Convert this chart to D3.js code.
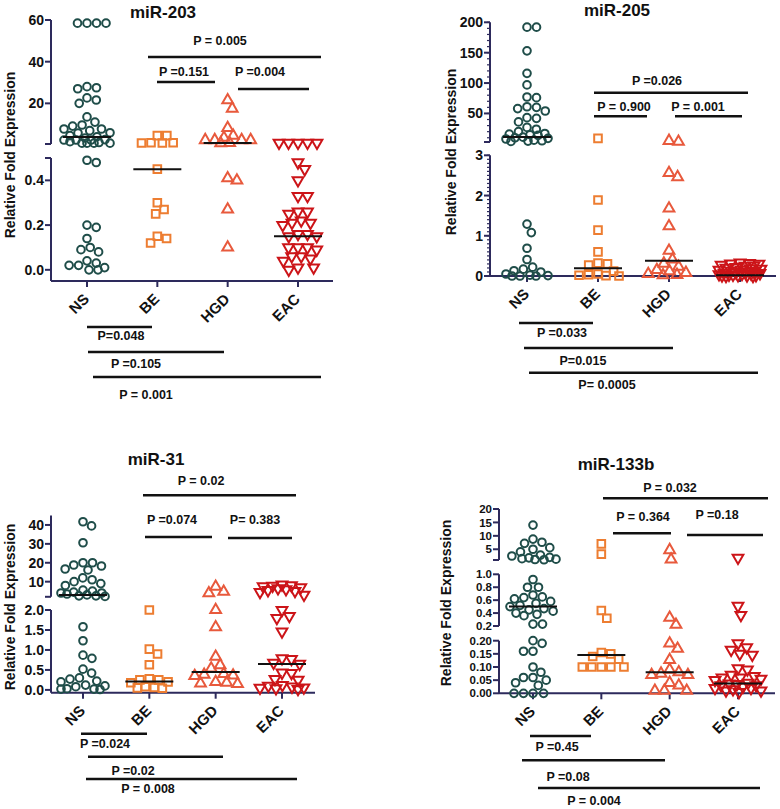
<!DOCTYPE html>
<html><head><meta charset="utf-8">
<script src="https://cdn.jsdelivr.net/npm/d3@7"></script>
<style>body{margin:0;background:#fff}svg{display:block}</style>
</head><body>
<svg id="c" width="780" height="809"></svg>
<script>
const groups = ["NS","BE","HGD","EAC"];

// miR-203
const mir203_NS  = [58.5,58.5,58.5,58.5,28,27.5,27,22.6,21.6,20,13.5,11,9.6,9.1,7.7,7.7,6.9,5.9,5.8,4.5,4,3.4,2.6,2.4,2.4,2.4,1.6,1.2,0.9,0.9,0.9,0.9,0.49,0.48,0.20,0.19,0.14,0.10,0.09,0.08,0.04,0.03,0.02,0.02,0.01,0.0,0.0];
const mir203_BE  = [4.5,4.5,1.1,1.1,1.0,1.0,0.45,0.30,0.27,0.25,0.15,0.14,0.12];
const mir203_HGD = [21.5,17.5,8.2,4.5,3.5,2.4,2.4,2.4,2.4,1.0,0.9,0.41,0.40,0.27,0.10];
const mir203_EAC = [1.1,1.1,1.1,1.1,1.1,0.48,0.45,0.40,0.33,0.33,0.26,0.26,0.25,0.22,0.21,0.20,0.21,0.16,0.16,0.15,0.15,0.10,0.10,0.10,0.09,0.06,0.05,0.06,0.04,0.01,0.01,0.0];
const mir203_median = [3.9,0.45,1.0,0.15];

// miR-205
const mir205_NS  = [192,192,153,116,97,77,76,61,60,58,54,43,42,36,27,24,20,17,16,15,14,11,10,9,8,6,5,4.5,4,1.29,1.08,0.69,0.41,0.22,0.17,0.13,0.1,0.05,0.02,0.01,0.0,0.0,0.0];
const mir205_BE  = [9,1.89,1.14,0.60,0.32,0.30,0.27,0.12,0.05,0.03,0.02,0.01,0.0];
const mir205_HGD = [5,3.6,2.56,2.46,1.68,1.24,0.63,0.41,0.31,0.23,0.15,0.12,0.08,0.05,0.03,0.02];
const mir205_EAC = [0.33,0.32,0.31,0.30,0.28,0.26,0.25,0.22,0.20,0.19,0.18,0.16,0.15,0.13,0.12,0.10,0.09,0.08,0.07,0.06,0.05,0.04,0.03,0.03,0.02,0.02,0.01,0.01,0.0,0.0];
const mir205_median = [11.4,0.19,0.38,0.02];

// miR-31
const mir31_NS  = [41.7,39.5,30.6,20,20,18.8,18.3,16.7,16.2,12,11,10,9,8,5.5,5,4.5,4,4,3.5,3,2.5,2.5,2.2,1.58,1.23,0.87,0.79,0.52,0.42,0.30,0.27,0.22,0.20,0.12,0.10,0.08,0.03,0.02,0.02,0.01];
const mir31_BE  = [2.0,1.02,0.9,0.63,0.28,0.25,0.25,0.2,0.18,0.08,0.06,0.05,0.04];
const mir31_HGD = [7.4,4.7,3.9,2.0,1.57,0.83,0.62,0.54,0.40,0.38,0.36,0.35,0.20,0.18,0.16,0.15];
const mir31_EAC = [8.5,8,7.8,7.5,7,6.5,6,5.5,5,4.5,3,2.0,1.85,1.8,1.46,0.79,0.77,0.68,0.65,0.43,0.42,0.27,0.25,0.12,0.1,0.08,0.06,0.05,0.04,0.02];
const mir31_median = [3.0,0.21,0.45,0.65];

// miR-133b
const mir133b_NS  = [14,8.8,7.6,7.2,5.6,5,4,2.8,2.5,2,1.8,1.5,1.3,1.2,1.1,0.92,0.8,0.8,0.68,0.65,0.64,0.62,0.58,0.55,0.52,0.5,0.47,0.45,0.43,0.4,0.38,0.36,0.23,0.23,0.20,0.19,0.16,0.16,0.10,0.08,0.06,0.06,0.05,0.04,0.03,0.0,0.0,0.0,0.0];
const mir133b_BE  = [7,3.2,0.44,0.32,0.155,0.15,0.14,0.13,0.10,0.10,0.10,0.10,0.10];
const mir133b_HGD = [4.7,1.2,0.33,0.22,0.19,0.17,0.127,0.09,0.08,0.075,0.07,0.07,0.04,0.03,0.01,0.01,0.01];
const mir133b_EAC = [1.8,0.51,0.37,0.19,0.175,0.165,0.15,0.146,0.095,0.09,0.07,0.065,0.06,0.06,0.055,0.05,0.04,0.037,0.035,0.03,0.03,0.025,0.02,0.02,0.015,0.01,0.01,0.005];
const mir133b_median = [0.50,0.146,0.08,0.037];

const colors = ["#1f4d49","#ed7d31","#e8593c","#cc1418"];
const axisColor = "#2d2a5c";

const panels = [
  { title:"miR-203", data:[mir203_NS,mir203_BE,mir203_HGD,mir203_EAC], med:mir203_median,
    ax:51, xy:281, xEnd:333, cat:[87,298], titlePos:[163,18], ylab:[10,155], swarmMax:23, tickFont:14,
    segs:[ {dom:[-0.05,0.5], rng:[281,158], ticks:[0,0.2,0.4], fmt:".1f", caps:[158]},
           {dom:[0.5,60], rng:[144,20], ticks:[20,40,60], fmt:"d", caps:[144]} ],
    pv:[ ["P = 0.005",220,45,148,321,57], ["P =0.151",184,76,157,215,82], ["P =0.004",260,76,238,309,89],
         ["P=0.048",121,340,87,152,327], ["P =0.105",136,368,88,224,352], ["P = 0.001",146,399,93,321,377] ] },
  { title:"miR-205", data:[mir205_NS,mir205_BE,mir205_HGD,mir205_EAC], med:mir205_median,
    ax:490, xy:276, xEnd:776, cat:[527,740], titlePos:[617,16], ylab:[451,152], swarmMax:21, tickFont:14,
    segs:[ {dom:[0,3], rng:[276,155.3], ticks:[0,1,2,3], fmt:"d", caps:[], minor:0.1},
           {dom:[3,200], rng:[142,22.3], ticks:[50,100,150,200], fmt:"d", caps:[142], minor:10} ],
    pv:[ ["P =0.026",657,85,594,748,92.7], ["P = 0.900",624,110.7,594,647,116.3], ["P = 0.001",698,110.7,675,742,116.3],
         ["P =0.033",562,337,519,593,323], ["P=0.015",583,365,524,673,348], ["P= 0.0005",607,389,529,758,372.7] ] },
  { title:"miR-31", data:[mir31_NS,mir31_BE,mir31_HGD,mir31_EAC], med:mir31_median,
    ax:51, xy:692.7, xEnd:315, cat:[83,282], titlePos:[156,465], ylab:[10,607], swarmMax:22, tickFont:14,
    segs:[ {dom:[-0.07,2.0], rng:[692.7,610], ticks:[0,0.5,1,1.5,2], fmt:".1f", caps:[]},
           {dom:[2,45], rng:[596.8,515.5], ticks:[10,20,30,40], fmt:"d", caps:[596.8]} ],
    pv:[ ["P = 0.02",201,485,143,296,495.3], ["P =0.074",172,524.3,145,212,537], ["P= 0.383",255,524,228,292,538],
         ["P =0.024",105,748,81,147,733.7], ["P =0.02",133,775,88,223,756.7], ["P = 0.008",148,793,86,297,779] ] },
  { title:"miR-133b", data:[mir133b_NS,mir133b_BE,mir133b_HGD,mir133b_EAC], med:mir133b_median,
    ax:499, xy:693.3, xEnd:775, cat:[533,738], titlePos:[616,470], ylab:[446,603], swarmMax:23, tickFont:11.5,
    segs:[ {dom:[0,0.2], rng:[693.3,640.7], ticks:[0,0.05,0.1,0.15,0.2], fmt:".2f", caps:[]},
           {dom:[0.2,1.0], rng:[626,574.3], ticks:[0.2,0.4,0.6,0.8,1.0], fmt:".1f", caps:[]},
           {dom:[1,20], rng:[560,509], ticks:[5,10,15,20], fmt:"d", caps:[560]} ],
    pv:[ ["P = 0.032",670,491.7,603,768,498.3], ["P = 0.364",643,520.7,613,671,533.3], ["P =0.18",717,519,687,763,535],
         ["P =0.45",557,750.7,530,591,736], ["P =0.08",568,780.7,522,665,760.3], ["P = 0.004",594,805,538,760,788] ] }
];

const svg = d3.select("#c");
const FONT = "'Liberation Sans', Arial, sans-serif";
const shapes = [d3.symbolCircle, d3.symbolSquare, d3.symbolTriangle, d3.symbolTriangle];
const sizes = [46, 58, 50, 50];

function swarm(ys, d, maxOff){
  const idx = ys.map((y,i)=>i).sort((a,b)=>ys[a]-ys[b]);
  const placed=[]; const xs=new Array(ys.length);
  for(const i of idx){
    const y=ys[i];
    const near = placed.filter(p=>Math.abs(p.y-y)<d);
    const cands=[0];
    near.forEach(p=>{const dx=Math.sqrt(d*d-(p.y-y)**2); cands.push(p.x+dx,p.x-dx);});
    cands.sort((a,b)=>Math.abs(a)-Math.abs(b));
    let best=null;
    for(const c of cands){
      if(Math.abs(c)>maxOff) continue;
      if(near.every(p=>(p.x-c)**2+(p.y-y)**2>=d*d-0.01)){best=c;break;}
    }
    if(best===null){
      let bs=-1;
      for(let c=-maxOff;c<=maxOff;c+=1){
        const m=Math.min(...near.map(p=>(p.x-c)**2+(p.y-y)**2));
        if(m>bs){bs=m;best=c;}
      }
    }
    xs[i]=best; placed.push({x:best,y});
  }
  return xs;
}

panels.forEach(P=>{
  const g = svg.append("g");
  const segScales = P.segs.map(s=>d3.scaleLinear().domain(s.dom).range(s.rng));
  const yOf = v => { for(let k=0;k<P.segs.length;k++){ if(v<=P.segs[k].dom[1] || k===P.segs.length-1) return segScales[k](v);} };
  const x = d3.scalePoint().domain(groups).range(P.cat);

  P.segs.forEach((s,k)=>{
    const sc = segScales[k];
    g.append("line").attr("x1",P.ax).attr("x2",P.ax).attr("y1",s.rng[0]).attr("y2",s.rng[1])
      .attr("stroke",axisColor).attr("stroke-width",2);
    if(s.minor){
      const n0=Math.ceil(s.dom[0]/s.minor), n1=Math.floor(s.dom[1]/s.minor+1e-9);
      for(let n=n0;n<=n1;n++){
        const v=n*s.minor;
        g.append("line").attr("x1",P.ax-3).attr("x2",P.ax).attr("y1",sc(v)).attr("y2",sc(v))
          .attr("stroke",axisColor).attr("stroke-width",1.2);
      }
    }
    const f = d3.format(s.fmt);
    s.ticks.forEach(t=>{
      g.append("line").attr("x1",P.ax-6).attr("x2",P.ax).attr("y1",sc(t)).attr("y2",sc(t))
        .attr("stroke",axisColor).attr("stroke-width",2);
      g.append("text").attr("x",P.ax-7).attr("y",sc(t)).attr("dy","0.36em").attr("text-anchor","end")
        .attr("font-family",FONT).attr("font-weight","bold").attr("font-size",P.tickFont).attr("fill","#111").text(f(t));
    });
    s.caps.forEach(c=>{
      g.append("line").attr("x1",P.ax-6).attr("x2",P.ax).attr("y1",c).attr("y2",c)
        .attr("stroke",axisColor).attr("stroke-width",2);
    });
  });
  g.append("line").attr("x1",P.ax).attr("x2",P.xEnd).attr("y1",P.xy).attr("y2",P.xy)
    .attr("stroke",axisColor).attr("stroke-width",2);
  groups.forEach(c=>{
    g.append("line").attr("x1",x(c)).attr("x2",x(c)).attr("y1",P.xy).attr("y2",P.xy+6)
      .attr("stroke",axisColor).attr("stroke-width",2);
    g.append("text").attr("transform",`translate(${x(c)+3},${P.xy+19}) rotate(-45)`).attr("text-anchor","end")
      .attr("font-family",FONT).attr("font-weight","bold").attr("font-size",15).attr("fill","#111").text(c);
  });

  groups.forEach((c,gi)=>{
    const vals = P.data[gi];
    const ys = vals.map(yOf);
    const xs = swarm(ys, 9.5, P.swarmMax);
    const sym = d3.symbol().type(shapes[gi]).size(sizes[gi]);
    g.append("g").selectAll("path").data(vals).join("path")
      .attr("d",sym)
      .attr("transform",(d,i)=>`translate(${x(c)+xs[i]},${ys[i]})${gi===3?" rotate(180)":""}`)
      .attr("fill","none").attr("stroke",colors[gi]).attr("stroke-width",2);
    const my = yOf(P.med[gi]);
    g.append("line").attr("x1",x(c)-24).attr("x2",x(c)+24).attr("y1",my).attr("y2",my)
      .attr("stroke","#111").attr("stroke-width",2);
  });

  g.append("text").attr("x",P.titlePos[0]).attr("y",P.titlePos[1]).attr("text-anchor","middle")
    .attr("font-family",FONT).attr("font-weight","bold").attr("font-size",17).attr("fill","#111").text(P.title);
  g.append("text").attr("transform",`translate(${P.ylab[0]+5},${P.ylab[1]}) rotate(-90)`).attr("text-anchor","middle")
    .attr("font-family",FONT).attr("font-weight","bold").attr("font-size",14).attr("fill","#111").text("Relative Fold Expression");

  P.pv.forEach(p=>{
    g.append("line").attr("x1",p[3]).attr("x2",p[4]).attr("y1",p[5]).attr("y2",p[5])
      .attr("stroke","#111").attr("stroke-width",2.5);
    g.append("text").attr("x",p[1]).attr("y",p[2]).attr("text-anchor","middle")
      .attr("font-family",FONT).attr("font-weight","bold").attr("font-size",12.5).attr("fill","#111").text(p[0]);
  });
});
</script>
</body></html>
